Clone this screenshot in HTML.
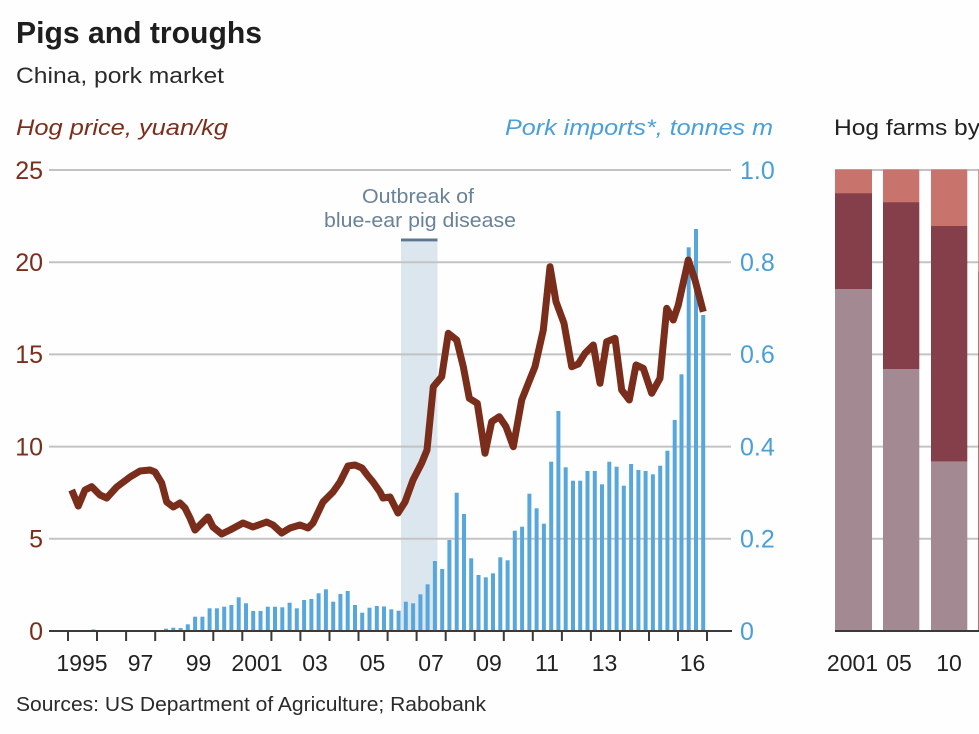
<!DOCTYPE html>
<html><head><meta charset="utf-8"><style>
html,body{margin:0;padding:0;background:#fff;}
svg{display:block;}
text{font-family:"Liberation Sans",Arial,sans-serif;}
</style></head><body>
<svg width="979" height="734" viewBox="0 0 979 734" xmlns="http://www.w3.org/2000/svg">
<rect width="979" height="734" fill="#fefefe"/>
<text x="16" y="43" font-size="31" font-weight="bold" fill="#1e1e1e" textLength="246" lengthAdjust="spacingAndGlyphs">Pigs and troughs</text>
<text x="16" y="83" font-size="22" fill="#2a2a2a" textLength="208" lengthAdjust="spacingAndGlyphs">China, pork market</text>
<text x="16" y="135" font-size="22" font-style="italic" fill="#7a2e1c" textLength="212" lengthAdjust="spacingAndGlyphs">Hog price, yuan/kg</text>
<text x="505" y="135" font-size="22" font-style="italic" fill="#4a9fd8" textLength="268" lengthAdjust="spacingAndGlyphs">Pork imports*, tonnes m</text>
<text x="834" y="135" font-size="22" fill="#222" textLength="146" lengthAdjust="spacingAndGlyphs">Hog farms by</text>

<rect x="401" y="242" width="36.5" height="389" fill="#dce6ee"/>
<rect x="401" y="238.5" width="36.5" height="3" fill="#5c7891"/>
<text x="418" y="203" font-size="20" fill="#6a8298" text-anchor="middle" textLength="112" lengthAdjust="spacingAndGlyphs">Outbreak of</text>
<text x="420" y="227" font-size="20" fill="#6a8298" text-anchor="middle" textLength="192" lengthAdjust="spacingAndGlyphs">blue-ear pig disease</text>

<g stroke="#c3c3c3" stroke-width="2">
<line x1="49" y1="170" x2="731" y2="170"/>
<line x1="49" y1="262.2" x2="731" y2="262.2"/>
<line x1="49" y1="354.4" x2="731" y2="354.4"/>
<line x1="49" y1="446.6" x2="731" y2="446.6"/>
<line x1="49" y1="538.8" x2="731" y2="538.8"/>
<line x1="835" y1="170" x2="979" y2="170"/>
<line x1="835" y1="262.2" x2="979" y2="262.2"/>
<line x1="835" y1="354.4" x2="979" y2="354.4"/>
<line x1="835" y1="446.6" x2="979" y2="446.6"/>
<line x1="835" y1="538.8" x2="979" y2="538.8"/>
</g>

<g font-size="25" fill="#7a2e1c" text-anchor="end">
<text x="43" y="179">25</text>
<text x="43" y="271">20</text>
<text x="43" y="363">15</text>
<text x="43" y="455.5">10</text>
<text x="43" y="547.5">5</text>
<text x="43" y="640">0</text>
</g>
<g font-size="25" fill="#4a9fd8">
<text x="740" y="179">1.0</text>
<text x="740" y="271">0.8</text>
<text x="740" y="363">0.6</text>
<text x="740" y="455.5">0.4</text>
<text x="740" y="547.5">0.2</text>
<text x="740" y="640">0</text>
</g>

<g fill="#58a7dc">
<rect x="91.4" y="629.5" width="4" height="1.5"/>
<rect x="164" y="628.7" width="4" height="2.3"/>
<rect x="171.3" y="627.7" width="4" height="3.3"/>
<rect x="178.6" y="628" width="4" height="3"/>
<rect x="185.8" y="624.3" width="4" height="6.7"/>
<rect x="193.1" y="616.7" width="4" height="14.3"/>
<rect x="200.4" y="616.7" width="4" height="14.3"/>
<rect x="207.6" y="608.3" width="4" height="22.7"/>
<rect x="214.9" y="608.3" width="4" height="22.7"/>
<rect x="222.2" y="606.7" width="4" height="24.3"/>
<rect x="229.4" y="605" width="4" height="26"/>
<rect x="236.7" y="597.3" width="4" height="33.7"/>
<rect x="244" y="603.3" width="4" height="27.7"/>
<rect x="251.2" y="611" width="4" height="20"/>
<rect x="258.5" y="611" width="4" height="20"/>
<rect x="265.8" y="606.7" width="4" height="24.3"/>
<rect x="273" y="606.7" width="4" height="24.3"/>
<rect x="280.3" y="607.3" width="4" height="23.7"/>
<rect x="287.6" y="602.7" width="4" height="28.3"/>
<rect x="294.8" y="608.3" width="4" height="22.7"/>
<rect x="302.1" y="600" width="4" height="31"/>
<rect x="309.4" y="599" width="4" height="32"/>
<rect x="316.6" y="593.3" width="4" height="37.7"/>
<rect x="323.9" y="589.3" width="4" height="41.7"/>
<rect x="331.2" y="601.7" width="4" height="29.3"/>
<rect x="338.4" y="594" width="4" height="37"/>
<rect x="345.7" y="591" width="4" height="40"/>
<rect x="353" y="605" width="4" height="26"/>
<rect x="360.2" y="612.7" width="4" height="18.3"/>
<rect x="367.5" y="607.7" width="4" height="23.3"/>
<rect x="374.8" y="606" width="4" height="25"/>
<rect x="382" y="606.5" width="4" height="24.5"/>
<rect x="389.3" y="609.3" width="4" height="21.7"/>
<rect x="396.6" y="610.7" width="4" height="20.3"/>
<rect x="403.8" y="601.7" width="4" height="29.3"/>
<rect x="411.1" y="603.3" width="4" height="27.7"/>
<rect x="418.4" y="594.3" width="4" height="36.7"/>
<rect x="425.6" y="584.3" width="4" height="46.7"/>
<rect x="432.9" y="561" width="4" height="70"/>
<rect x="440.2" y="569" width="4" height="62"/>
<rect x="447.4" y="540" width="4" height="91"/>
<rect x="454.7" y="492.7" width="4" height="138.3"/>
<rect x="462" y="514" width="4" height="117"/>
<rect x="469.2" y="558.3" width="4" height="72.7"/>
<rect x="476.5" y="575" width="4" height="56"/>
<rect x="483.8" y="577.3" width="4" height="53.7"/>
<rect x="491" y="573.3" width="4" height="57.7"/>
<rect x="498.3" y="557.3" width="4" height="73.7"/>
<rect x="505.6" y="560.3" width="4" height="70.7"/>
<rect x="512.8" y="530.7" width="4" height="100.3"/>
<rect x="520.1" y="526.7" width="4" height="104.3"/>
<rect x="527.4" y="493.7" width="4" height="137.3"/>
<rect x="534.6" y="508.3" width="4" height="122.7"/>
<rect x="541.9" y="523.7" width="4" height="107.3"/>
<rect x="549.2" y="461.7" width="4" height="169.3"/>
<rect x="556.4" y="411" width="4" height="220"/>
<rect x="563.7" y="467.3" width="4" height="163.7"/>
<rect x="571" y="480.7" width="4" height="150.3"/>
<rect x="578.2" y="480.7" width="4" height="150.3"/>
<rect x="585.5" y="471" width="4" height="160"/>
<rect x="592.8" y="471" width="4" height="160"/>
<rect x="600" y="484.3" width="4" height="146.7"/>
<rect x="607.3" y="461.7" width="4" height="169.3"/>
<rect x="614.6" y="466.7" width="4" height="164.3"/>
<rect x="621.8" y="485.7" width="4" height="145.3"/>
<rect x="629.1" y="464" width="4" height="167"/>
<rect x="636.4" y="470" width="4" height="161"/>
<rect x="643.6" y="471" width="4" height="160"/>
<rect x="650.9" y="474.3" width="4" height="156.7"/>
<rect x="658.2" y="465.7" width="4" height="165.3"/>
<rect x="665.4" y="450.7" width="4" height="180.3"/>
<rect x="672.7" y="420" width="4" height="211"/>
<rect x="679.5" y="374.3" width="4" height="256.7"/>
<rect x="686.7" y="247.3" width="4" height="383.7"/>
<rect x="694" y="229" width="4" height="402"/>
<rect x="701.2" y="315" width="4" height="316"/>
</g>

<polyline fill="none" stroke="#7a2d1b" stroke-width="7" stroke-linejoin="round" points="71.7,490 78.3,506 85,490 91.7,486.7 100,495 106.7,498 116.7,487 130,477 140,471 150,470 155,472 161.7,483 166.7,502 173.3,507 180,503 185,508 190,518 195,530 203,522 208,517 213,527 221.7,534 230,530 243,523 253,527 266.7,522 273,525 281.7,533 290,528 300,525 308,528 313,523 323,502 333,492 340,482 348,466 355,465 362,468 368,476 373,482 380,492 383,498 390,497 398,513 405,502 413,480 421.7,463 427,450 433.3,386.7 441.7,376.7 448.3,333.3 456.7,340 463.3,366.7 469.3,398.3 477.3,403.3 485,453.3 491.7,421.7 499.3,416.7 506,426.7 513.3,446.7 521.7,400 528.3,383.3 535,366.7 543.3,330 550,266.7 556,301.7 564,323.3 571.7,366.7 578.3,364 585,353.3 593.3,345 600,383.3 606.7,341.7 615,338.3 621.7,390 629.3,400 636,365 643.3,368.3 651.7,393.3 660,378.3 666.7,308.3 673.3,320 678.3,305 688.3,260 695,280 703.3,311.7"/>

<line x1="49" y1="631" x2="732" y2="631" stroke="#3a3a3a" stroke-width="2"/>
<g stroke="#3a3a3a" stroke-width="2">
<line x1="68" y1="631" x2="68" y2="641"/>
<line x1="97" y1="631" x2="97" y2="641"/>
<line x1="126.1" y1="631" x2="126.1" y2="641"/>
<line x1="155.2" y1="631" x2="155.2" y2="641"/>
<line x1="184.2" y1="631" x2="184.2" y2="641"/>
<line x1="213.3" y1="631" x2="213.3" y2="641"/>
<line x1="242.3" y1="631" x2="242.3" y2="641"/>
<line x1="271.4" y1="631" x2="271.4" y2="641"/>
<line x1="300.4" y1="631" x2="300.4" y2="641"/>
<line x1="329.5" y1="631" x2="329.5" y2="641"/>
<line x1="358.5" y1="631" x2="358.5" y2="641"/>
<line x1="387.6" y1="631" x2="387.6" y2="641"/>
<line x1="416.6" y1="631" x2="416.6" y2="641"/>
<line x1="445.7" y1="631" x2="445.7" y2="641"/>
<line x1="474.7" y1="631" x2="474.7" y2="641"/>
<line x1="503.8" y1="631" x2="503.8" y2="641"/>
<line x1="532.8" y1="631" x2="532.8" y2="641"/>
<line x1="561.9" y1="631" x2="561.9" y2="641"/>
<line x1="590.9" y1="631" x2="590.9" y2="641"/>
<line x1="620" y1="631" x2="620" y2="641"/>
<line x1="649" y1="631" x2="649" y2="641"/>
<line x1="678" y1="631" x2="678" y2="641"/>
<line x1="707" y1="631" x2="707" y2="641"/>
</g>

<g font-size="23" fill="#222" text-anchor="middle">
<text x="82" y="671">1995</text>
<text x="140.5" y="671">97</text>
<text x="198.5" y="671">99</text>
<text x="257" y="671">2001</text>
<text x="315" y="671">03</text>
<text x="372.5" y="671">05</text>
<text x="431" y="671">07</text>
<text x="489" y="671">09</text>
<text x="547" y="671">11</text>
<text x="604.5" y="671">13</text>
<text x="692.5" y="671">16</text>
</g>

<text x="16" y="711" font-size="20" fill="#2a2a2a" textLength="470" lengthAdjust="spacingAndGlyphs">Sources: US Department of Agriculture; Rabobank</text>

<rect x="835" y="169.5" width="37" height="24" fill="#c8736b"/>
<rect x="835" y="193.3" width="37" height="96" fill="#853f4b"/>
<rect x="835" y="289.3" width="37" height="341.7" fill="#a38a92"/>
<rect x="883" y="169.5" width="36.3" height="33" fill="#c8736b"/>
<rect x="883" y="202.3" width="36.3" height="167" fill="#853f4b"/>
<rect x="883" y="369.3" width="36.3" height="261.7" fill="#a38a92"/>
<rect x="931" y="169.5" width="36.3" height="56.5" fill="#c8736b"/>
<rect x="931" y="226" width="36.3" height="235.7" fill="#853f4b"/>
<rect x="931" y="461.7" width="36.3" height="169.3" fill="#a38a92"/>
<rect x="978.3" y="169.5" width="2" height="102" fill="#c8736b"/>
<rect x="978.3" y="271.5" width="2" height="359.5" fill="#853f4b"/>
<line x1="835" y1="631" x2="979" y2="631" stroke="#3a3a3a" stroke-width="2"/>
<g font-size="23" fill="#222" text-anchor="middle">
<text x="852.5" y="671">2001</text>
<text x="899" y="671">05</text>
<text x="949" y="671">10</text>
</g>
</svg>
</body></html>
